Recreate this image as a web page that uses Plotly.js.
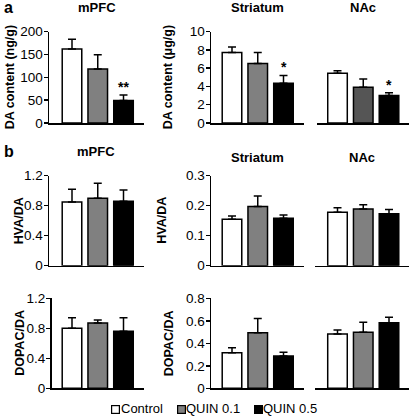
<!DOCTYPE html>
<html><head><meta charset="utf-8">
<script src="https://cdn.plot.ly/plotly-3.0.1.min.js"></script>
<style>html,body{margin:0;padding:0;background:#fff}#chart{width:409px;height:417px}</style>
</head><body><div id="chart"></div>
<script>
// ---- data ----
const groups = ['Control', 'QUIN 0.1', 'QUIN 0.5'];
const regions = ['mPFC', 'Striatum', 'NAc'];

const da_mPFC = [162, 118, 49];
const da_mPFC_err = [21, 31, 12];
const da_str = [7.7, 6.5, 4.35];
const da_str_err = [0.6, 1.2, 0.85];
const da_nac = [5.45, 3.9, 3.0];
const da_nac_err = [0.25, 0.9, 0.3];

const hva_mPFC = [0.85, 0.90, 0.86];
const hva_mPFC_err = [0.17, 0.20, 0.15];
const hva_str = [0.155, 0.197, 0.158];
const hva_str_err = [0.011, 0.035, 0.011];
const hva_nac = [0.178, 0.189, 0.173];
const hva_nac_err = [0.015, 0.014, 0.014];

const dopac_mPFC = [0.80, 0.87, 0.76];
const dopac_mPFC_err = [0.14, 0.04, 0.18];
const dopac_str = [0.316, 0.494, 0.287];
const dopac_str_err = [0.044, 0.126, 0.033];
const dopac_nac = [0.483, 0.498, 0.583];
const dopac_nac_err = [0.035, 0.089, 0.048];

const sig_da_mPFC = ['', '', '**'];
const sig_da_str = ['', '', '*'];
const sig_da_nac = ['', '', '*'];

const ticks_da_mPFC = [0, 50, 100, 150, 200];
const ticks_da_str = [0, 2, 4, 6, 8, 10];
const ticks_hva_mPFC = [0, 0.4, 0.8, 1.2];
const ticks_hva_str = [0, 0.1, 0.2, 0.3];
const ticks_dopac_mPFC = [0, 0.4, 0.8, 1.2];
const ticks_dopac_str = [0, 0.2, 0.4, 0.6, 0.8];

const yTitles = ['DA content (ng/g)', 'DA content (μg/g)', 'HVA/DA', 'HVA/DA', 'DOPAC/DA', 'DOPAC/DA'];

// ---- styles / layout geometry ----
const FONT = 'Liberation Sans, Arial, sans-serif';
const colorsStd = ['#ffffff', '#808080', '#000000'];
const colorsNacDA = ['#ffffff', '#555555', '#000000'];
const W = 409, H = 417, S = 25.75;

const panels = [
  {m: da_mPFC, e: da_mPFC_err, sig: sig_da_mPFC, ticks: ticks_da_mPFC, yt: yTitles[0], L: 49, R: 144, C0: 72, yb: 123, yt_px: 31.5, title: regions[0], tshift: 24, ytx: -39, col: colorsStd},
  {m: da_str, e: da_str_err, sig: sig_da_str, ticks: ticks_da_str, yt: yTitles[1], L: 211, R: 303.5, C0: 232, yb: 123, yt_px: 31.5, title: regions[1], tshift: 24, ytx: -43, col: colorsStd},
  {m: da_nac, e: da_nac_err, sig: sig_da_nac, ticks: ticks_da_str, yt: null, L: 317, R: 409, C0: 337.5, yb: 123, yt_px: 31.5, title: regions[2], tshift: 24, col: colorsNacDA},
  {m: hva_mPFC, e: hva_mPFC_err, ticks: ticks_hva_mPFC, yt: yTitles[2], L: 49, R: 143.5, C0: 72, yb: 265.7, yt_px: 175.7, title: regions[0], tshift: 24, ytx: -30.5, col: colorsStd},
  {m: hva_str, e: hva_str_err, ticks: ticks_hva_str, yt: yTitles[3], L: 211, R: 303.5, C0: 232, yb: 265.7, yt_px: 175.7, title: regions[1], tshift: 18, ytx: -49, col: colorsStd},
  {m: hva_nac, e: hva_nac_err, ticks: ticks_hva_str, yt: null, L: 315, R: 409, C0: 337.5, yb: 265.7, yt_px: 175.7, title: regions[2], tshift: 18, col: colorsStd},
  {m: dopac_mPFC, e: dopac_mPFC_err, ticks: ticks_dopac_mPFC, yt: yTitles[4], L: 51.5, R: 143.5, C0: 72, yb: 388.3, yt_px: 298.3, title: null, ytx: -31, col: colorsStd},
  {m: dopac_str, e: dopac_str_err, ticks: ticks_dopac_str, yt: yTitles[5], L: 211, R: 303.5, C0: 232, yb: 388.3, yt_px: 298.3, title: null, ytx: -42, col: colorsStd},
  {m: dopac_nac, e: dopac_nac_err, ticks: ticks_dopac_str, yt: null, L: 315, R: 409, C0: 337.5, yb: 388.3, yt_px: 298.3, title: null, col: colorsStd}
];

const traces = [];
const layout = {
  width: W, height: H,
  margin: {l: 0, r: 0, t: 0, b: 0},
  paper_bgcolor: '#fff', plot_bgcolor: 'rgba(0,0,0,0)',
  font: {family: FONT, color: '#000', size: 13.5},
  showlegend: false,
  barmode: 'overlay',
  annotations: [],
  bargap: 0
};

panels.forEach((p, k) => {
  const n = k + 1;
  const xa = 'x' + (n === 1 ? '' : n), ya = 'y' + (n === 1 ? '' : n);
  const xk = 'xaxis' + (n === 1 ? '' : n), yk = 'yaxis' + (n === 1 ? '' : n);
  const xd = xa + ' domain', yd = ya + ' domain';

  groups.forEach((g, i) => {
    traces.push({
      type: 'bar', x: [i], y: [p.m[i]], name: g, width: 0.76,
      xaxis: xa, yaxis: ya,
      marker: {color: p.col[i], line: {color: '#000', width: 1.5}},
      error_y: {type: 'data', symmetric: false, array: [p.e[i]], arrayminus: [0],
                color: '#000', thickness: 1.5, width: 4},
      hoverinfo: 'skip'
    });
    if (p.sig && p.sig[i]) {
      layout.annotations.push({
        xref: xa, yref: ya, x: i, y: p.m[i] + p.e[i], text: '<b>' + p.sig[i] + '</b>',
        showarrow: false, yanchor: 'bottom', yshift: -2, font: {size: 14, family: FONT}
      });
    }
  });

  layout[xk] = {
    domain: [p.L / W, Math.min(p.R / W, 1)],
    range: [(p.L - p.C0) / S, (p.R - p.C0) / S],
    anchor: ya, showline: true, linecolor: '#000', linewidth: 1.5,
    showticklabels: false, ticks: '', showgrid: false, zeroline: false, fixedrange: true
  };
  const ticks = p.ticks;
  layout[yk] = {
    domain: [1 - p.yb / H, 1 - p.yt_px / H],
    range: [ticks[0], ticks[ticks.length - 1]],
    anchor: xa, showgrid: false, zeroline: false, fixedrange: true,
    visible: p.yt !== null,
    showline: p.yt !== null, linecolor: '#000', linewidth: 1.5,
    ticks: 'outside', ticklen: 4, tickwidth: 1.5, tickcolor: '#000',
    ticklabelstandoff: -2,
    tickmode: 'array', tickvals: ticks,
    tickfont: {size: 13.5, family: FONT, color: '#000'}
  };
  if (p.yt) {
    layout.annotations.push({
      xref: xd, yref: yd, x: 0, y: 0.5, xshift: p.ytx, textangle: -90,
      text: '<b>' + p.yt + '</b>', showarrow: false, xanchor: 'center', yanchor: 'middle',
      font: {size: 12.5, family: FONT}
    });
  }
  if (p.title) {
    layout.annotations.push({
      xref: xd, yref: yd, x: 0.5, y: 1, yshift: p.tshift, text: '<b>' + p.title + '</b>',
      showarrow: false, xanchor: 'center', yanchor: 'middle', font: {size: 13, family: FONT}
    });
  }
});

// panel letters
layout.annotations.push({xref: 'paper', yref: 'paper', x: 2 / W, y: 1 - 7.5 / H, text: '<b>a</b>',
  showarrow: false, xanchor: 'left', yanchor: 'middle', font: {size: 16, family: FONT}});
layout.annotations.push({xref: 'paper', yref: 'paper', x: 2 / W, y: 1 - 152 / H, text: '<b>b</b>',
  showarrow: false, xanchor: 'left', yanchor: 'middle', font: {size: 16, family: FONT}});

// legend (boxes + labels) at the bottom
const legendBoxX = [116, 181.5, 258.3];
const legendY = 1 - 408 / H;
groups.forEach((g, i) => {
  layout.annotations.push({xref: 'paper', yref: 'paper', x: legendBoxX[i] / W, y: legendY,
    text: '&nbsp;', width: 7, height: 7, borderpad: 0, borderwidth: 1.2, bordercolor: '#000',
    bgcolor: colorsStd[i], showarrow: false, xanchor: 'center', yanchor: 'middle', font: {size: 5},
    yshift: -1});
  layout.annotations.push({xref: 'paper', yref: 'paper', x: (legendBoxX[i] + 4.5) / W, y: 0,
    text: g, showarrow: false, xanchor: 'left', yanchor: 'bottom', font: {size: 13, family: FONT},
    borderpad: 0, xshift: -1});
});

Plotly.newPlot('chart', traces, layout, {displayModeBar: false, staticPlot: true});
</script>
</body></html>
